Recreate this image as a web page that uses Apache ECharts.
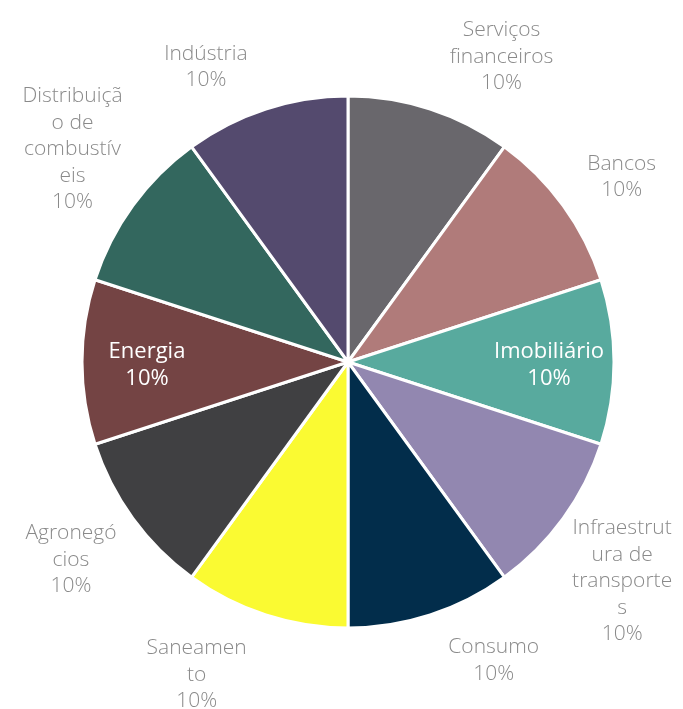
<!DOCTYPE html>
<html>
<head>
<meta charset="utf-8">
<script src="https://cdn.jsdelivr.net/npm/echarts@6/dist/echarts.min.js"></script>
<style>
html,body{margin:0;padding:0;background:#fff;}
#chart{width:683px;height:709px;}
</style>
</head>
<body>
<div id="chart"></div>
<script>
// ---- data ----
const categories = ['Serviços financeiros','Bancos','Imobiliário','Infraestrutura de transportes','Consumo','Saneamento','Agronegócios','Energia','Distribuição de combustíveis','Indústria'];
const values = [10,10,10,10,10,10,10,10,10,10];
const wrappedNames = ['Serviços\nfinanceiros','Bancos','Imobiliário','Infraestrut\nura de\ntransporte\ns','Consumo','Saneamen\nto','Agronegó\ncios','Energia','Distribuiçã\no de\ncombustív\neis','Indústria'];
const colors = ['#69676c','#b07b7a','#58aa9e','#9287b0','#022d4b','#fafa32','#404042','#744444','#33675e','#544a6e'];
const insideLabels = ['Imobiliário','Energia'];

// ---- label placement (styling) ----
const labelLen1 = [56,50,0,105,47,62,69,0,98,45];
const labelLen2 = [-9,-45,0,-89,-14,-13,-57,0,-82,-17];
const HALF = 58;

const fontFamily = '"Open Sans", "Segoe UI", sans-serif';

function fmt(p){ return wrappedNames[p.dataIndex] + '\n' + Math.round(p.percent) + '%'; }

const mainData = categories.map((c,i)=>({
  name:c, value:values[i],
  itemStyle:{color:colors[i]},
  label:{show: insideLabels.indexOf(c) < 0},
  labelLine:{show:false, length:labelLen1[i], length2:labelLen2[i]}
}));
const overlayData = categories.map((c,i)=>({
  name:c, value:values[i],
  label:{show: insideLabels.indexOf(c) >= 0}
}));

const chart = echarts.init(document.getElementById('chart'), null, {renderer:'canvas'});
chart.setOption({
  backgroundColor:'#fff',
  animation:false,
  series:[{
    type:'pie',
    center:[348,362],
    radius:[0,266],
    startAngle:90,
    clockwise:true,
    avoidLabelOverlap:false,
    silent:true,
    itemStyle:{borderColor:'#fff', borderWidth:3},
    label:{
      position:'outside',
      formatter:fmt,
      fontFamily:fontFamily,
      fontWeight:300,
      fontSize:21,
      lineHeight:26.5,
      color:'#8a8a8a',
      overflow:'none',
      distanceToLabelLine:5
    },
    labelLayout:function(p){
      const r = p.labelRect;
      const cx = p.align === 'right' ? r.x + r.width - HALF : r.x + HALF;
      return {x:cx, y:r.y + r.height/2 + 1, align:'center', verticalAlign:'middle'};
    },
    data:mainData
  },{
    type:'pie',
    center:[348,362],
    radius:[130,266],
    startAngle:90,
    clockwise:true,
    avoidLabelOverlap:false,
    silent:true,
    itemStyle:{color:'rgba(0,0,0,0)', borderWidth:0},
    label:{
      position:'inside',
      formatter:function(p){ return p.name + '\n' + Math.round(p.percent) + '%'; },
      fontFamily:fontFamily,
      fontSize:22,
      lineHeight:26.5,
      color:'#ffffff'
    },
    labelLayout:function(p){ return {dy:3}; },
    labelLine:{show:false},
    data:overlayData
  }]
});
</script>
</body>
</html>
